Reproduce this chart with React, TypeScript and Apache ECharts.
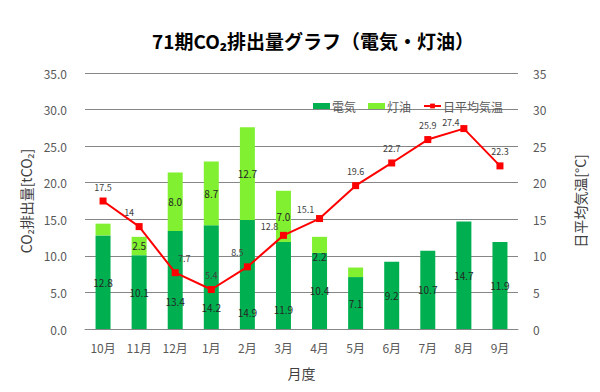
import React, { useEffect, useRef } from "react";
import * as echarts from "echarts";

const months = ["10月", "11月", "12月", "1月", "2月", "3月", "4月", "5月", "6月", "7月", "8月", "9月"];
const electricity = [12.8, 10.1, 13.4, 14.2, 14.9, 11.9, 10.4, 7.1, 9.2, 10.7, 14.7, 11.9];
const kerosene = [1.6, 2.5, 8.0, 8.7, 12.7, 7.0, 2.2, 1.3, 0, 0, 0, 0];
const keroseneLabelShown = [false, true, true, true, true, true, true, false, false, false, false, false];
const temperature = [17.5, 14, 7.7, 5.4, 8.5, 12.8, 15.1, 19.6, 22.7, 25.9, 27.4, 22.3];
const axisTicks = [0, 5, 10, 15, 20, 25, 30, 35];

const FONT = "'Noto Sans CJK JP', 'Noto Sans', sans-serif";

// label placement nudges (styling only, px)
const elecLabelNudge: number[][] = [[0, 0], [0, 0], [0, 22], [0, 30], [0, 38], [0, 24], [0, 0], [0, 0], [0, 0], [0, 0], [0, 0], [0, 0]];
const keroLabelNudge: number[][] = [[0, 0], [0, 0], [0, 0], [0, 0], [0, 0], [0, 0], [0, 12], [0, 0], [0, 0], [0, 0], [0, 0], [0, 0]];
const tempLabelNudge: number[][] = [[0, 0], [-10, 0], [9, 0], [0, 0], [-10, 0], [-14, 5], [-14, 5], [0, 0], [0, 0], [0, 0], [-13, 8], [0, 0]];

export default function App() {
  const ref = useRef<HTMLDivElement>(null);
  useEffect(() => {
    document.body.style.margin = "0";
    if (!ref.current) return;
    const chart = echarts.init(ref.current, null, { renderer: "svg" });
    const axMax = axisTicks[axisTicks.length - 1];
    const axInt = axisTicks[1] - axisTicks[0];
    const barLabel = {
      show: true,
      position: "inside",
      fontFamily: FONT,
      fontSize: 10,
      color: "#262626",
      formatter: (p: any) => Number(p.value).toFixed(1),
    };
    chart.setOption({
      animation: false,
      backgroundColor: "#ffffff",
      textStyle: { fontFamily: FONT },
      title: {
        text: "71期CO₂排出量グラフ（電気・灯油）",
        left: 308,
        textAlign: "center",
        top: 26,
        textStyle: { fontFamily: FONT, fontSize: 19, fontWeight: "bold", color: "#000" },
      },
      legend: {
        left: 308,
        top: 95,
        itemWidth: 17,
        itemHeight: 6,
        itemGap: 12,
        textStyle: { fontFamily: FONT, fontSize: 12, color: "#595959", padding: [0, 0, 0, -3] },
        data: [
          { name: "電気", icon: "rect" },
          { name: "灯油", icon: "rect" },
          { name: "日平均気温" },
        ],
      },
      grid: { left: 85, right: 82, top: 73, bottom: 63 },
      xAxis: {
        type: "category",
        data: months,
        name: "月度",
        nameLocation: "middle",
        nameGap: 37,
        nameTextStyle: { fontFamily: FONT, fontSize: 14, color: "#404040" },
        axisLine: { lineStyle: { color: "#868686" } },
        axisTick: { length: 4, lineStyle: { color: "#868686" } },
        axisLabel: { fontFamily: FONT, fontSize: 12, color: "#595959", margin: 12 },
      },
      yAxis: [
        {
          type: "value",
          min: 0,
          max: axMax,
          interval: axInt,
          name: "CO₂排出量[tCO₂]",
          nameLocation: "middle",
          nameRotate: 90,
          nameGap: 52,
          nameTextStyle: { fontFamily: FONT, fontSize: 14, color: "#404040" },
          axisLine: { show: false },
          axisTick: { show: false },
          axisLabel: {
            fontFamily: FONT,
            fontSize: 12,
            color: "#595959",
            margin: 18,
            formatter: (v: number) => v.toFixed(1),
          },
          splitLine: { lineStyle: { color: "#868686", width: 1 } },
        },
        {
          type: "value",
          min: 0,
          max: axMax,
          interval: axInt,
          position: "right",
          name: "日平均気温[°C]",
          nameLocation: "middle",
          nameRotate: 90,
          nameGap: 55,
          nameTextStyle: { fontFamily: FONT, fontSize: 14, color: "#404040" },
          axisLine: { show: false },
          axisTick: { show: false },
          axisLabel: { fontFamily: FONT, fontSize: 12, color: "#595959", margin: 15 },
          splitLine: { show: false },
        },
      ],
      series: [
        {
          name: "電気",
          type: "bar",
          stack: "co2",
          barWidth: 15,
          itemStyle: { color: "#00B050" },
          label: barLabel,
          data: electricity.map((v, i) => ({ value: v, label: { offset: elecLabelNudge[i] } })),
        },
        {
          name: "灯油",
          type: "bar",
          stack: "co2",
          barWidth: 15,
          itemStyle: { color: "#80F030" },
          label: barLabel,
          data: kerosene.map((v, i) => ({
            value: v,
            label: { show: keroseneLabelShown[i], offset: keroLabelNudge[i] },
          })),
        },
        {
          name: "日平均気温",
          type: "line",
          yAxisIndex: 1,
          symbol: "rect",
          symbolSize: 7,
          itemStyle: { color: "#FF0000" },
          lineStyle: { color: "#FF0000", width: 2 },
          label: {
            show: true,
            position: "top",
            distance: 6,
            fontFamily: FONT,
            fontSize: 9,
            color: "#404040",
          },
          z: 5,
          data: temperature.map((v, i) => ({ value: v, label: { offset: tempLabelNudge[i] } })),
        },
      ],
    });
    return () => chart.dispose();
  }, []);
  return <div ref={ref} style={{ width: 600, height: 392 }} />;
}
